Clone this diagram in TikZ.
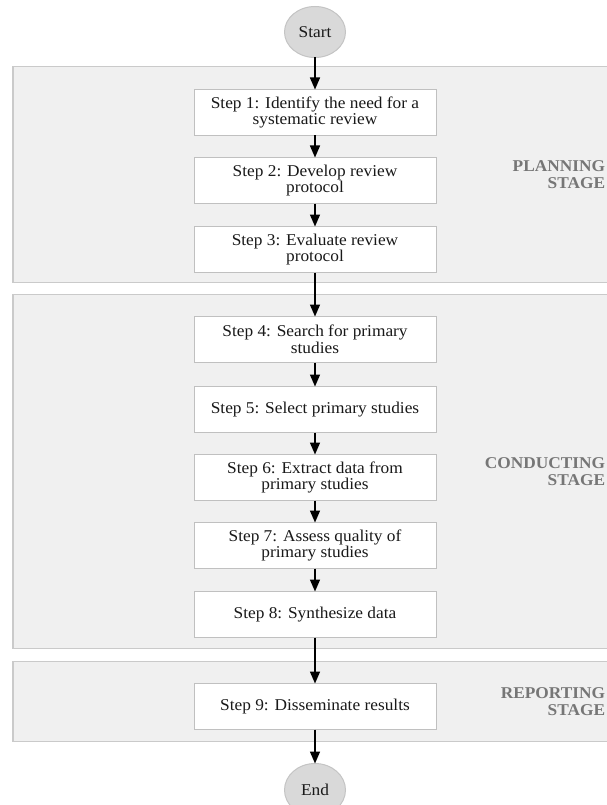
\documentclass[tikz,border=0pt]{standalone}
\usepackage{fontspec}
\setmainfont{Liberation Serif}[FakeStretch=1.05]
\usepackage{tikz}
\usetikzlibrary{shapes.geometric, arrows.meta, positioning, fit, backgrounds, calc}
\definecolor{panelbg}{RGB}{240, 240, 240}
\definecolor{panelline}{RGB}{202, 202, 202}
\definecolor{boxline}{RGB}{192, 192, 192}
\definecolor{termbg}{RGB}{217, 217, 217}
\definecolor{termline}{RGB}{196, 196, 196}
\definecolor{labelgray}{RGB}{118, 118, 118}
\definecolor{ink}{RGB}{25, 25, 25}
\tikzset{
    font=\fontsize{16.5}{16.7}\selectfont,
    terminal/.style={ellipse, draw=termline, fill=termbg, line width=1pt, text=ink, inner sep=0pt, outer sep=0pt, minimum width=61pt, minimum height=51pt},
    stepbox/.style={rectangle, draw=boxline, fill=white, line width=1pt, align=center, text=ink, outer sep=0pt, minimum width=242pt, minimum height=46pt},
    stagebox/.style={rectangle, draw=panelline, fill=panelbg, line width=1.3pt, inner sep=0pt},
    stagelabel/.style={font=\fontsize{16.5}{16.7}\selectfont\bfseries, text=labelgray, align=right, anchor=east},
    arrow/.style={-{Triangle[length=12pt, width=10pt]}, line width=1.5pt, color=black}
}

\begin{document}
\begin{tikzpicture}[x=1pt, y=1pt]

    \useasboundingbox (0,0) rectangle (606,-805);

    \node (start) [terminal] at (315,-32) {Start};

    \node (step1) [stepbox, below=32pt of start] {Step 1: Identify the need for a\\systematic review};
    \node (step2) [stepbox, below=22pt of step1] {Step 2: Develop review\\protocol};
    \node (step3) [stepbox, below=23pt of step2] {Step 3: Evaluate review\\protocol};

    \node (step4) [stepbox, below=44pt of step3] {Step 4: Search for primary\\studies};
    \node (step5) [stepbox, below=24pt of step4] {Step 5: Select primary studies};
    \node (step6) [stepbox, below=22pt of step5] {Step 6: Extract data from\\primary studies};
    \node (step7) [stepbox, below=22pt of step6] {Step 7: Assess quality of\\primary studies};
    \node (step8) [stepbox, below=23pt of step7] {Step 8: Synthesize data};

    \node (step9) [stepbox, below=46pt of step8] {Step 9: Disseminate results};

    \node (end) [terminal, minimum height=53pt, below=34pt of step9] {End};

    \draw [arrow] (start.south) -- (step1.north);
    \draw [arrow] (step1.south) -- (step2.north);
    \draw [arrow] (step2.south) -- (step3.north);
    \draw [arrow] (step3.south) -- (step4.north);
    \draw [arrow] (step4.south) -- (step5.north);
    \draw [arrow] (step5.south) -- (step6.north);
    \draw [arrow] (step6.south) -- (step7.north);
    \draw [arrow] (step7.south) -- (step8.north);
    \draw [arrow] (step8.south) -- (step9.north);
    \draw [arrow] (step9.south) -- (end.north);

    % stage panels
    \coordinate (lft) at (13,0);
    \coordinate (rgt) at (615,0);
    \coordinate (plan-tl) at ($(lft |- step1.north)+(0,23)$);
    \coordinate (plan-br) at ($(rgt |- step3.south)+(0,-10)$);
    \coordinate (cond-tl) at ($(lft |- step4.north)+(0,22)$);
    \coordinate (cond-br) at ($(rgt |- step8.south)+(0,-11)$);
    \coordinate (rep-tl)  at ($(lft |- step9.north)+(0,22)$);
    \coordinate (rep-br)  at ($(rgt |- step9.south)+(0,-12)$);

    \begin{scope}[on background layer]
        \node (planning)   [stagebox, fit=(plan-tl) (plan-br)] {};
        \node (conducting) [stagebox, fit=(cond-tl) (cond-br)] {};
        \node (reporting)  [stagebox, fit=(rep-tl) (rep-br)] {};
    \end{scope}

    \node [stagelabel] at ($(planning.east)+(-7,0)$)   {PLANNING\\STAGE};
    \node [stagelabel] at ($(conducting.east)+(-7,0)$) {CONDUCTING\\STAGE};
    \node [stagelabel] at ($(reporting.east)+(-7,0)$)  {REPORTING\\STAGE};

\end{tikzpicture}
\end{document}
